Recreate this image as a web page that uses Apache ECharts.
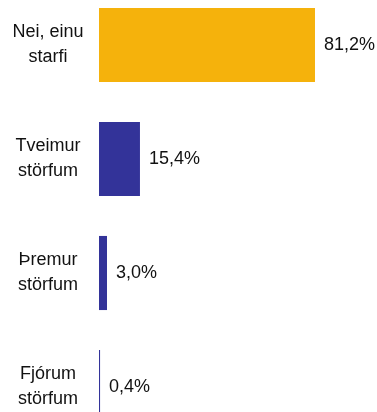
<!DOCTYPE html>
<html>
<head>
<meta charset="utf-8">
<style>
  html, body { margin: 0; padding: 0; background: #fff; overflow: hidden; width: 377px; height: 412px; }
  /* canvas extends a little above and below the window so the last row is cut off */
  #chart { position: absolute; left: 0; top: -12px; width: 377px; height: 468px; }
</style>
<script src="https://cdn.jsdelivr.net/npm/echarts@6/dist/echarts.min.js"></script>
</head>
<body>
<div id="chart"></div>
<script>
// Number of jobs held (share of respondents, %)
const categories = ['Nei, einu\nstarfi', 'Tveimur\nstörfum', 'Þremur\nstörfum', 'Fjórum\nstörfum'];
const values = [81.2, 15.4, 3.0, 0.4];
const barColors = ['#F5B20C', '#333399', '#333399', '#333399'];

const fontFamily = "'Liberation Sans', Arial, sans-serif";
const chart = echarts.init(document.getElementById('chart'), null, { renderer: 'canvas' });

chart.setOption({
  animation: false,
  grid: { left: 99, top: 0, width: 266, height: 456, containLabel: false },
  xAxis: {
    type: 'value', min: 0, max: 100,
    show: false
  },
  yAxis: {
    type: 'category',
    data: categories,
    inverse: true,
    axisLine: { show: false },
    axisTick: { show: false },
    splitLine: { show: false },
    axisLabel: {
      align: 'center',
      margin: 51,
      color: '#111',
      fontFamily: fontFamily,
      fontSize: 18,
      lineHeight: 25
    }
  },
  series: [{
    type: 'bar',
    barCategoryGap: '35%',
    data: values.map((v, i) => ({ value: v, itemStyle: { color: barColors[i] } })),
    label: {
      show: true,
      position: 'right',
      distance: 9,
      color: '#111',
      fontFamily: fontFamily,
      fontSize: 18,
      formatter: p => p.value.toFixed(1).replace('.', ',') + '%'
    }
  }]
});
</script>
</body>
</html>
